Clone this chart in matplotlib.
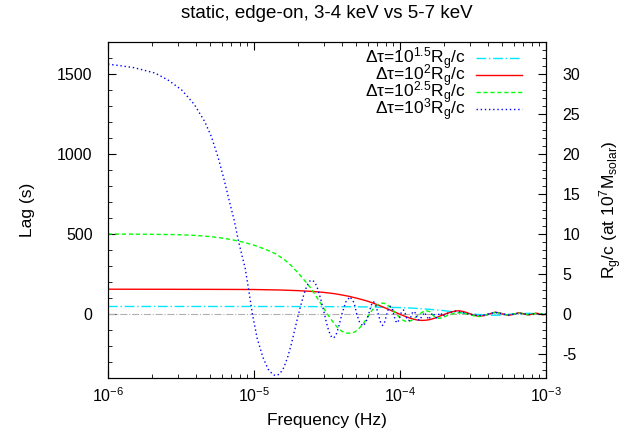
import matplotlib
matplotlib.use("Agg")
import matplotlib.pyplot as plt
from matplotlib.ticker import MultipleLocator, LogLocator, NullFormatter, FixedLocator

plt.rcParams['font.family'] = ['Liberation Sans', 'DejaVu Sans']
plt.rcParams['mathtext.fontset'] = 'custom'
plt.rcParams['mathtext.rm'] = 'Liberation Sans'
plt.rcParams['mathtext.it'] = 'Liberation Sans:italic'
plt.rcParams['axes.unicode_minus'] = False
plt.rcParams['font.size'] = 11.5

# Rg/c for 10^7 solar masses (s)
RG_C = 50.0

# dtau = 10^1.5 Rg/c
freq_a = [1e-6, 1e-5, 2e-5, 3e-5, 4e-5, 5e-5, 6e-5, 7e-5, 8e-5, 9e-5, 1.0e-4, 1.2e-4, 1.4e-4,
          1.6e-4, 1.8e-4, 2.0e-4, 2.3e-4, 2.6e-4, 3.0e-4, 3.4e-4, 3.8e-4, 4.3e-4, 4.8e-4,
          5.3e-4, 5.8e-4, 6.4e-4, 7.0e-4, 7.6e-4, 8.2e-4, 8.8e-4, 9.4e-4, 1.0e-3]
lag_a = [47, 47, 46.5, 46, 45.5, 45, 44, 43, 42, 41, 40, 37, 33,
         29, 25, 21, 14, 8, 2, -3, -6, -8, -7,
         -4, -1, 2, 3, 4, 3, 1, 0, -1]

# dtau = 10^2 Rg/c
freq_b = [1e-6, 5e-6, 1e-5, 1.5e-5, 2e-5, 2.5e-5, 3e-5, 3.5e-5, 4e-5, 4.5e-5, 5e-5, 5.5e-5,
          6e-5, 6.5e-5, 7e-5, 7.5e-5, 8e-5, 8.5e-5, 9e-5, 9.5e-5, 1.0e-4, 1.1e-4, 1.2e-4,
          1.3e-4, 1.4e-4, 1.5e-4, 1.6e-4, 1.7e-4, 1.8e-4, 1.9e-4, 2.0e-4, 2.2e-4, 2.4e-4,
          2.5e-4, 2.6e-4, 2.8e-4, 3.0e-4, 3.2e-4, 3.4e-4, 3.5e-4, 3.6e-4, 3.8e-4, 4.0e-4,
          4.5e-4, 5.0e-4, 5.5e-4, 6.0e-4, 6.5e-4, 7.0e-4, 7.5e-4, 8.0e-4, 8.5e-4, 9.0e-4,
          9.5e-4, 1.0e-3]
lag_b = [155, 154, 153, 150, 146, 141, 135, 128, 119, 110, 100, 90,
         80, 69, 58, 47, 36, 26, 16, 7, -2, -17, -29,
         -37, -40, -39, -35, -28, -20, -11, -3, 10, 19,
         20, 19, 12, 2, -7, -13, -14, -13, -9, -2,
         12, 2, -9, -2, 8, 2, -6, -2, 5, 2,
         -5, -2]

# dtau = 10^2.5 Rg/c
freq_c = [1e-6, 2e-6, 3e-6, 4e-6, 5e-6, 6e-6, 7e-6, 8e-6, 9e-6, 1.0e-5, 1.2e-5, 1.4e-5,
          1.6e-5, 1.8e-5, 2.0e-5, 2.2e-5, 2.4e-5, 2.6e-5, 2.8e-5, 3.0e-5, 3.2e-5, 3.4e-5,
          3.6e-5, 3.8e-5, 4.0e-5, 4.3e-5, 4.6e-5, 4.9e-5, 5.2e-5, 5.6e-5, 6.0e-5, 6.4e-5,
          6.8e-5, 7.2e-5, 7.6e-5, 8.0e-5, 8.5e-5, 9.0e-5, 9.5e-5, 1.0e-4, 1.05e-4, 1.1e-4,
          1.15e-4, 1.2e-4, 1.3e-4, 1.4e-4, 1.5e-4, 1.6e-4, 1.7e-4, 1.8e-4, 1.95e-4, 2.1e-4,
          2.3e-4, 2.6e-4, 2.9e-4, 3.2e-4, 3.5e-4, 3.8e-4, 4.2e-4, 4.6e-4, 5.0e-4, 5.5e-4,
          6.0e-4, 6.5e-4, 7.0e-4, 7.5e-4, 8.0e-4, 8.5e-4, 9.0e-4, 9.5e-4, 1.0e-3]
lag_c = [500, 498, 496, 491, 484, 475, 465, 454, 442, 430, 404, 377,
         343, 302, 258, 214, 172, 126, 80, 36, -3, -38,
         -68, -92, -108, -119, -121, -112, -94, -60, -20, 20,
         50, 64, 68, 64, 46, 22, -3, -24, -39, -47,
         -47, -40, -16, 8, 22, 14, -12, -27, -24, -10,
         2, 8, 0, -11, -16, -8, 5, 9, 2, -6,
         0, 6, 2, -4, -1, 4, 1, -3, 0]

# dtau = 10^3 Rg/c
freq_d = [1.0e-6, 1.5e-6, 2.1e-6, 2.6e-6, 3.2e-6, 3.9e-6, 4.6e-6, 5.1e-6, 5.66e-6, 6.2e-6,
          6.8e-6, 7.3e-6, 7.8e-6, 8.3e-6, 8.7e-6, 9.2e-6, 9.75e-6, 1.05e-5, 1.15e-5, 1.25e-5,
          1.35e-5, 1.42e-5, 1.5e-5, 1.6e-5, 1.7e-5, 1.8e-5, 1.9e-5, 2.0e-5, 2.1e-5, 2.2e-5,
          2.3e-5, 2.4e-5, 2.5e-5, 2.6e-5, 2.7e-5, 2.8e-5, 2.9e-5, 3.0e-5, 3.1e-5, 3.2e-5,
          3.3e-5, 3.4e-5, 3.5e-5, 3.6e-5, 3.7e-5, 3.8e-5, 3.9e-5, 4.0e-5, 4.25e-5, 4.55e-5,
          4.85e-5, 5.05e-5, 5.3e-5, 5.6e-5, 5.85e-5, 6.1e-5, 6.35e-5, 6.6e-5, 6.85e-5, 7.1e-5,
          7.35e-5, 7.6e-5, 7.85e-5, 8.1e-5, 8.35e-5, 8.6e-5, 8.85e-5, 9.1e-5, 9.35e-5, 9.6e-5,
          9.85e-5, 1.01e-4, 1.035e-4, 1.06e-4, 1.085e-4, 1.11e-4, 1.135e-4, 1.16e-4, 1.185e-4,
          1.21e-4, 1.235e-4, 1.26e-4, 1.285e-4, 1.31e-4, 1.36e-4, 1.41e-4, 1.47e-4, 1.52e-4,
          1.57e-4, 1.62e-4, 1.67e-4, 1.72e-4, 1.77e-4, 1.82e-4, 1.87e-4, 1.92e-4, 1.97e-4,
          2.05e-4, 2.2e-4, 2.4e-4, 2.6e-4, 2.9e-4, 3.2e-4, 3.5e-4, 3.8e-4, 4.2e-4, 4.6e-4,
          5.0e-4, 5.5e-4, 6.0e-4, 6.5e-4, 7.0e-4, 7.5e-4, 8.0e-4, 8.5e-4, 9.0e-4, 9.5e-4,
          1.0e-3]
lag_d = [1562, 1540, 1506, 1460, 1400, 1310, 1202, 1110, 983, 850,
         700, 590, 462, 360, 287, 150, 0, -150, -270, -345,
         -380, -385, -375, -335, -270, -190, -100, -15, 60, 125,
         175, 205, 212, 200, 170, 125, 75, 20, -35, -85,
         -120, -145, -150, -140, -115, -80, -40, 0, 75, 108,
         70, 0, -55, -75, -50, 0, 55, 77, 50, 0,
         -50, -72, -50, -5, 35, 48, 30, -10, -45, -56,
         -35, 0, 20, 25, 5, -25, -40, -40, -20,
         5, 15, 15, -5, -30, -40, -15, 10, -10,
         -35, -15, 8, -5, -25, -10, 8, 0, -15,
         0, 10, 18, 12, 2, -6, -10, -6, 4, 8,
         2, -6, -1, 5, 1, -4, -1, 3, 1, -3,
         -1]

labels = [r'Δτ=10$^{1.5}$R$_{\rm g}$/c', r'Δτ=10$^{2}$R$_{\rm g}$/c',
          r'Δτ=10$^{2.5}$R$_{\rm g}$/c', r'Δτ=10$^{3}$R$_{\rm g}$/c']

fig = plt.figure(figsize=(6.42, 4.38), dpi=100)
ax = fig.add_axes([108/642, 1 - 378/438, 438/642, 336/438])

ax.axhline(0, color='#b0b0b0', lw=0.8, ls='-.')
ax.plot(freq_a, lag_a, color='#00e8ff', lw=1.0, ls=(0, (7, 2, 1, 2)), label=labels[0])
ax.plot(freq_b, lag_b, color='#ff0000', lw=1.0, ls='-', label=labels[1])
ax.plot(freq_c, lag_c, color='#00ff00', lw=1.0, ls=(0, (3, 2)), label=labels[2])
ax.plot(freq_d, lag_d, color='#0000ff', lw=1.0, ls=(0, (1, 2)), label=labels[3])

ax.set_xscale('log')
ax.set_xlim(1e-6, 1e-3)
ax.set_ylim(-400, 1700)
ax.xaxis.set_major_locator(FixedLocator([1e-6, 1e-5, 1e-4, 1e-3]))
ax.xaxis.set_minor_locator(LogLocator(base=10, subs=range(2, 10)))
ax.xaxis.set_minor_formatter(NullFormatter())
ax.set_xticklabels([r'10$^{-6}$', r'10$^{-5}$', r'10$^{-4}$', r'10$^{-3}$'])
ax.yaxis.set_major_locator(MultipleLocator(500))
ax.yaxis.set_minor_locator(MultipleLocator(100))
ax.tick_params(which='both', direction='in', top=True, right=False, labelsize=11.5)
ax.tick_params(which='major', length=6, width=0.8)
ax.tick_params(which='minor', length=3, width=0.6)
ax.tick_params(axis='x', pad=6)
ax.tick_params(axis='y', pad=11)

ax.set_xlabel('Frequency (Hz)', labelpad=6, fontsize=12.5)
ax.set_ylabel('Lag (s)', labelpad=16, fontsize=12.5)
ax.set_title('static, edge-on, 3-4 keV vs 5-7 keV', pad=17, fontsize=13.5)

ax2 = ax.twinx()
lo, hi = ax.get_ylim()
ax2.set_ylim(lo / RG_C, hi / RG_C)
ax2.yaxis.set_major_locator(MultipleLocator(5))
ax2.yaxis.set_minor_locator(MultipleLocator(1))
ax2.tick_params(which='both', direction='in', labelsize=11.5)
ax2.tick_params(which='major', length=6, width=0.8, pad=12)
ax2.tick_params(which='minor', length=3, width=0.6)
ax2.set_ylabel(r'R$_{\rm g}$/c (at 10$^7$M$_{\rm solar}$)', labelpad=12, fontsize=12.5)

ax.legend(loc='upper right', bbox_to_anchor=(0.977, 1.03), frameon=False, markerfirst=False,
          handlelength=2.65, handletextpad=0.6, labelspacing=-0.55, borderaxespad=0.5,
          borderpad=0.3, fontsize=12.5)

fig.savefig('out.png', dpi=100)
